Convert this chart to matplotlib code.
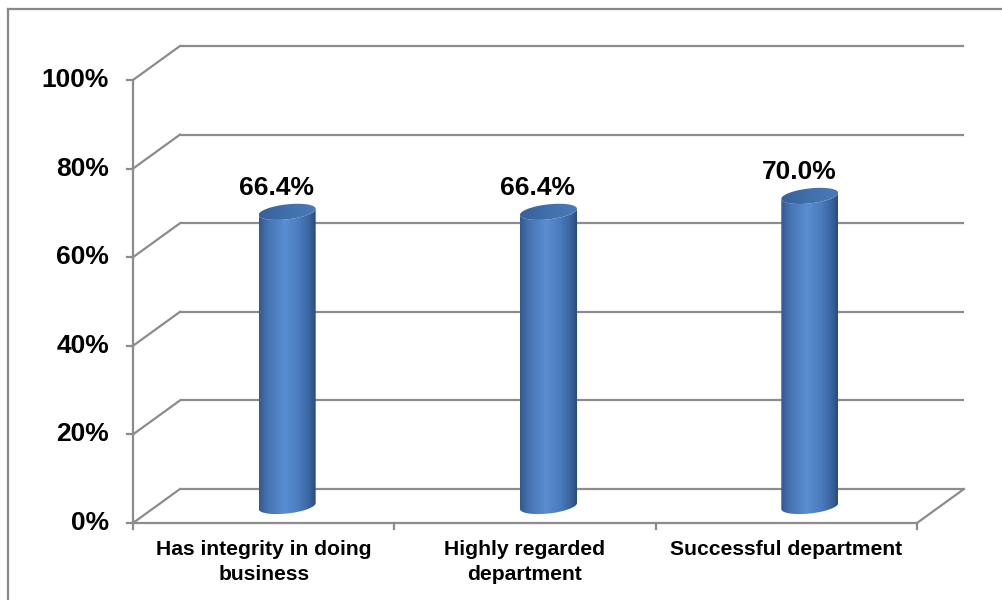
import numpy as np
import matplotlib
matplotlib.use("Agg")
import matplotlib.pyplot as plt
from matplotlib.colors import LinearSegmentedColormap
from matplotlib.patches import Polygon
from matplotlib.lines import Line2D

categories = ["Has integrity in doing\nbusiness", "Highly regarded\ndepartment", "Successful department"]
values = [0.664, 0.664, 0.700]
value_labels = ["66.4%", "66.4%", "70.0%"]
yticks = [0.0, 0.2, 0.4, 0.6, 0.8, 1.0]
ytick_labels = ["0%", "20%", "40%", "60%", "80%", "100%"]

W, H = 1002, 600
fig = plt.figure(figsize=(W / 100, H / 100), dpi=100)
ax = fig.add_axes([0, 0, 1, 1])

# pixel layout of the front plane: x=0 at px 133, one category = 261.33 px; y=0 at px 523, y=1 at px 80
x0_px, cat_px = 133.0, 261.33
y0_px, unit_px = 523.0, 443.0
ax.set_xlim(-x0_px / cat_px, (W - x0_px) / cat_px)
ax.set_ylim((y0_px - H) / unit_px, y0_px / unit_px)
ax.axis("off")

# depth offset of the back wall (47 px right, 34 px up)
DX, DY = 47 / cat_px, 34 / unit_px
n = len(categories)
grid_col = "#8c8c8c"
lw = 1.6

# back wall gridlines and left-wall diagonals
for t in yticks:
    ax.plot([DX, n + DX], [t + DY, t + DY], color=grid_col, lw=lw, zorder=1, solid_capstyle="butt")
    ax.plot([0, DX], [t, t + DY], color=grid_col, lw=lw, zorder=1)

# floor front edge and right diagonal
ax.plot([0, n], [0, 0], color=grid_col, lw=lw, zorder=1)
ax.plot([n, n + DX], [0, DY], color=grid_col, lw=lw, zorder=1)
# value axis with tick marks
ax.plot([0, 0], [0, 1], color=grid_col, lw=lw, zorder=1)
tick_x = 6 / cat_px
tick_y = 6 / unit_px
for t in yticks:
    ax.plot([-tick_x, 0], [t, t], color=grid_col, lw=lw, zorder=1)
for i in range(n + 1):
    ax.plot([i, i], [0, -tick_y], color=grid_col, lw=lw, zorder=1)

# cylinders
body_cmap = LinearSegmentedColormap.from_list(
    "cyl", [(0.0, "#33588c"), (0.15, "#4573b2"), (0.45, "#5a8ed2"),
            (0.7, "#4b7cbe"), (0.9, "#38629c"), (1.0, "#2a4a78")])
top_cmap = LinearSegmentedColormap.from_list(
    "cyltop", [(0.0, "#36609a"), (0.5, "#4170ab"), (1.0, "#4a7bb8")])

a = 28.5 / cat_px
b = 7.5 / unit_px
s = 3.0 / unit_px
grad = np.linspace(0, 1, 256).reshape(1, -1)


def ellipse_pts(cx, cy, t):
    return np.column_stack([cx + a * np.cos(t), cy + b * np.sin(t) + s * np.cos(t)])


for i, v in enumerate(values):
    cx = i + 0.5 + DX / 2
    base = DY / 2
    top = v + DY / 2
    lower = np.linspace(np.pi, 2 * np.pi, 60)
    bottom_edge = ellipse_pts(cx, base, lower)
    top_edge = ellipse_pts(cx, top, lower[::-1])
    body = Polygon(np.vstack([bottom_edge, top_edge]), closed=True,
                   facecolor="none", edgecolor="none", transform=ax.transData)
    ax.add_patch(body)
    im = ax.imshow(grad, cmap=body_cmap, aspect="auto", interpolation="bilinear",
                   extent=[cx - a, cx + a, base - b - s, top + b + s], zorder=3)
    im.set_clip_path(body)

    cap = Polygon(ellipse_pts(cx, top, np.linspace(0, 2 * np.pi, 120)), closed=True,
                  facecolor="none", edgecolor="none", transform=ax.transData)
    ax.add_patch(cap)
    im2 = ax.imshow(grad, cmap=top_cmap, aspect="auto", interpolation="bilinear",
                    extent=[cx - a, cx + a, top - b - s, top + b + s], zorder=4)
    im2.set_clip_path(cap)

    ax.text(cx - 10.5 / cat_px, top + b + 4 / unit_px, value_labels[i],
            ha="center", va="bottom", fontsize=19, fontweight="bold",
            family="Liberation Sans", color="black", zorder=5)

# value axis labels
for t, lab in zip(yticks, ytick_labels):
    ax.text(-24 / cat_px, t, lab, ha="right", va="center", fontsize=19,
            fontweight="bold", family="Liberation Sans", color="black")

# category labels
for i, lab in enumerate(categories):
    ax.text(i + 0.5, -17 / unit_px, lab, ha="center", va="top", fontsize=15.2,
            fontweight="bold", family="Liberation Sans", color="black",
            linespacing=1.4, multialignment="center")

ax.set_xlim(-x0_px / cat_px, (W - x0_px) / cat_px)
ax.set_ylim((y0_px - H) / unit_px, y0_px / unit_px)

# chart area border (top and left edges)
fig.add_artist(Line2D([7.5 / W, 7.5 / W], [0, 1 - 8.5 / H], color="#888888", lw=1.6))
fig.add_artist(Line2D([7.5 / W, 1], [1 - 8.5 / H, 1 - 8.5 / H], color="#888888", lw=1.6))

fig.savefig("out.png", dpi=100)
